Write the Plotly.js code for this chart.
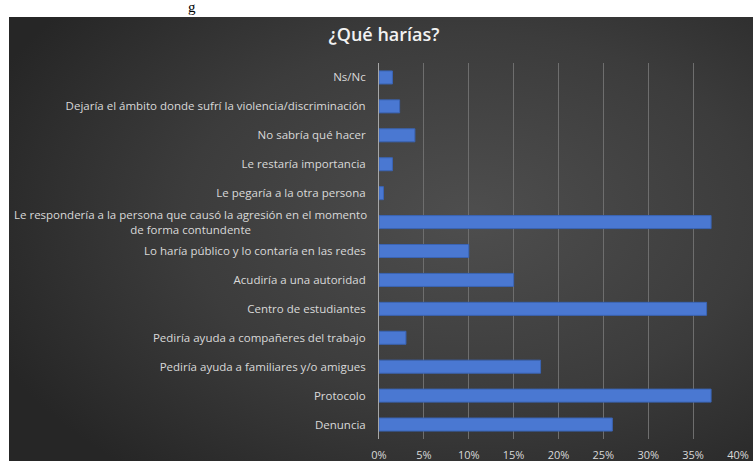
<!DOCTYPE html>
<html>
<head>
<meta charset="utf-8">
<script src="https://cdn.plot.ly/plotly-3.0.1.min.js"></script>
<style>
  html, body { margin: 0; padding: 0; background: #ffffff; }
  #wrap { position: relative; width: 753px; height: 461px; background: #ffffff; overflow: hidden; }
  #bg { position: absolute; left: 9px; top: 17px; width: 744px; height: 444px;
        background: radial-gradient(ellipse 70% 75% at 62% 45%, #4e4e4e 0%, #3c3c3c 55%, #262626 100%); }
  #chart { position: absolute; left: 0; top: 0; width: 753px; height: 461px; }
</style>
</head>
<body>
<div id="wrap"><div id="bg"></div><div id="chart"></div></div>
<script>
// Categories, listed bottom-to-top as drawn on the axis
const categories = [
  "Denuncia",
  "Protocolo",
  "Pediría ayuda a familiares y/o amigues",
  "Pediría ayuda a compañeres del trabajo",
  "Centro de estudiantes",
  "Acudiría a una autoridad",
  "Lo haría público y lo contaría en las redes",
  "Le respondería a la persona que causó la agresión en el momento de forma contundente",
  "Le pegaría a la otra persona",
  "Le restaría importancia",
  "No sabría qué hacer",
  "Dejaría el ámbito donde sufrí la violencia/discriminación",
  "Ns/Nc"
];
const values = [0.26, 0.37, 0.18, 0.03, 0.365, 0.15, 0.10, 0.37, 0.005, 0.015, 0.04, 0.023, 0.015];
const tickLabels = [
  "Denuncia",
  "Protocolo",
  "Pediría ayuda a familiares y/o amigues",
  "Pediría ayuda a compañeres del trabajo",
  "Centro de estudiantes",
  "Acudiría a una autoridad",
  "Lo haría público y lo contaría en las redes",
  "",
  "Le pegaría a la otra persona",
  "Le restaría importancia",
  "No sabría qué hacer",
  "Dejaría el ámbito donde sufrí la violencia/discriminación",
  "Ns/Nc"
];
const longLabel = "Le respondería a la persona que causó la agresión en el momento<br>de forma contundente";
const longLabelCategory = categories[7];
const xTickVals = [0, 0.05, 0.10, 0.15, 0.20, 0.25, 0.30, 0.35, 0.40];
const xTickText = ["0%", "5%", "10%", "15%", "20%", "25%", "30%", "35%", "40%"];
const titleText = "¿Qué harías?";

const labelFont = { family: "Open Sans, Noto Sans, sans-serif", size: 11.5, color: "#d9d9d9" };

const trace = {
  type: "bar",
  orientation: "h",
  y: categories,
  x: values,
  marker: { color: "#4a78d2", line: { color: "#3a64b4", width: 1 } },
  hoverinfo: "skip"
};

const layout = {
  width: 753,
  height: 461,
  paper_bgcolor: "rgba(0,0,0,0)",
  plot_bgcolor: "rgba(0,0,0,0)",
  margin: { l: 379, r: 15, t: 63, b: 22, pad: 0 },
  showlegend: false,
  bargap: 0.55,
  title: {
    text: titleText,
    font: { family: "Open Sans, Noto Sans, sans-serif", size: 18, color: "#f2f2f2", weight: 600 },
    x: 0.51, xanchor: "center", xref: "container",
    y: 0.925, yanchor: "middle", yref: "container"
  },
  xaxis: {
    range: [0, 0.40],
    tickvals: xTickVals,
    ticktext: xTickText,
    showgrid: true,
    gridcolor: "#6e6e6e",
    gridwidth: 1,
    zeroline: false,
    showline: false,
    ticks: "outside",
    ticklen: 6,
    tickcolor: "rgba(0,0,0,0)",
    tickfont: { family: "Open Sans, Noto Sans, sans-serif", size: 11, color: "#d9d9d9" },
    fixedrange: true
  },
  yaxis: {
    type: "category",
    categoryorder: "array",
    categoryarray: categories,
    tickvals: categories,
    ticktext: tickLabels,
    showgrid: false,
    zeroline: false,
    showline: true,
    linecolor: "#a6a6a6",
    linewidth: 1,
    ticks: "",
    ticklabelstandoff: 10,
    tickfont: labelFont,
    fixedrange: true
  },
  annotations: [
    {
      text: longLabel,
      xref: "paper", x: 0, xanchor: "right", xshift: -10,
      yref: "y", y: longLabelCategory, yanchor: "middle",
      align: "center",
      showarrow: false,
      font: labelFont
    },
    {
      text: "g",
      xref: "paper", yref: "paper",
      x: (192 - 379) / (753 - 379 - 15), xanchor: "center",
      y: 1 + (63 + 2) / (461 - 63 - 22), yanchor: "top",
      borderpad: 0,
      showarrow: false,
      font: { family: "Liberation Serif, serif", size: 15, color: "#000000" }
    }
  ]
};

Plotly.newPlot("chart", [trace], layout, { displayModeBar: false, staticPlot: true });
</script>
</body>
</html>
